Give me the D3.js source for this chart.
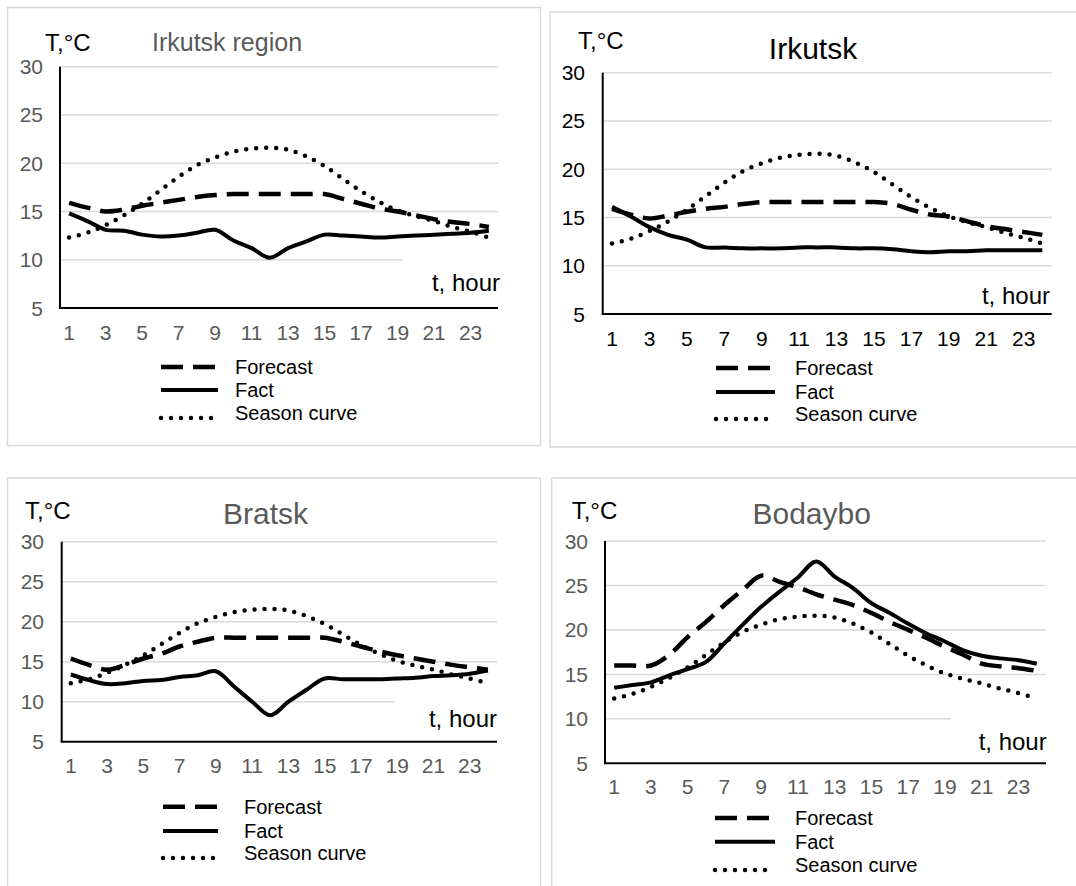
<!DOCTYPE html>
<html>
<head>
<meta charset="utf-8">
<script src="https://cdn.jsdelivr.net/npm/d3@7"></script>
<style>
    body { margin: 0; background: #fff; }
    svg { display: block; font-family: "Liberation Sans", Arial, sans-serif; }
    .frame { fill: none; stroke: #d9d9d9; stroke-width: 1.5; }
    .grid { stroke: #d9d9d9; stroke-width: 1.5; }
    .axisLine { stroke: #000; stroke-width: 2; }
    .forecast { fill: none; stroke: #000; stroke-width: 4.5; stroke-dasharray: 22 10; }
    .fact { fill: none; stroke: #000; stroke-width: 4; stroke-linejoin: round; }
    .season { fill: none; stroke: #000; stroke-width: 4.5; stroke-dasharray: 0 10; stroke-linecap: round; }
</style>
</head>
<body>
<script>
(function(){

//hours on the x axis
var hours = d3.range(1, 25);
var hourTicks = [1, 3, 5, 7, 9, 11, 13, 15, 17, 19, 21, 23];
var tempTicks = [5, 10, 15, 20, 25, 30];

//season curve is the same on every panel
var seasonCurve = [12.3, 12.8, 13.6, 14.6, 15.8, 17.2, 18.6, 19.8, 20.6, 21.2, 21.5, 21.6,
                   21.4, 20.7, 19.7, 18.4, 17.1, 16.0, 15.1, 14.5, 14.0, 13.4, 12.9, 12.3];

//Irkutsk region
var regionForecast = [15.9, 15.4, 15.0, 15.2, 15.6, 15.9, 16.2, 16.5, 16.7, 16.8, 16.8, 16.8,
                      16.8, 16.8, 16.8, 16.3, 15.8, 15.3, 15.0, 14.6, 14.2, 13.9, 13.7, 13.4];
var regionFact = [14.8, 14.0, 13.1, 13.0, 12.6, 12.4, 12.5, 12.8, 13.1, 12.0, 11.2, 10.2,
                  11.2, 11.9, 12.6, 12.5, 12.4, 12.3, 12.4, 12.5, 12.6, 12.7, 12.8, 13.0];

//Irkutsk
var irkutskForecast = [15.9, 15.3, 14.9, 15.2, 15.6, 15.9, 16.1, 16.4, 16.6, 16.6, 16.6, 16.6,
                       16.6, 16.6, 16.6, 16.4, 15.8, 15.3, 15.1, 14.6, 14.1, 13.8, 13.5, 13.2];
var irkutskFact = [16.1, 15.1, 14.0, 13.2, 12.7, 11.9, 11.9, 11.8, 11.8, 11.8, 11.9, 11.9,
                   11.9, 11.8, 11.8, 11.7, 11.5, 11.4, 11.5, 11.5, 11.6, 11.6, 11.6, 11.6];

//Bratsk
var bratskForecast = [15.4, 14.6, 14.0, 14.6, 15.4, 16.0, 16.9, 17.5, 18.0, 18.0, 18.0, 18.0,
                      18.0, 18.0, 18.0, 17.5, 16.9, 16.3, 15.8, 15.4, 15.0, 14.6, 14.3, 14.0];
var bratskFact = [13.4, 12.7, 12.2, 12.3, 12.6, 12.7, 13.1, 13.3, 13.8, 11.9, 10.0, 8.3,
                  10.0, 11.5, 12.9, 12.8, 12.8, 12.8, 12.9, 13.0, 13.2, 13.3, 13.5, 13.9];

//Bodaybo
var bodayboForecast = [16.0, 16.0, 16.0, 17.2, 19.2, 20.9, 22.8, 24.5, 26.1, 25.4, 24.8, 24.0,
                       23.4, 22.8, 21.9, 20.9, 20.0, 19.1, 18.1, 17.2, 16.2, 15.9, 15.7, 15.4];
var bodayboFact = [13.5, 13.8, 14.1, 14.9, 15.6, 16.4, 18.5, 20.6, 22.6, 24.3, 25.9, 27.7,
                   26.0, 24.7, 23.0, 21.9, 20.7, 19.6, 18.7, 17.7, 17.1, 16.8, 16.6, 16.2];

var legendNames = ["Forecast", "Fact", "Season curve"];
var legendClasses = ["forecast", "fact", "season"];

//panel layout
var panels = [
    {title: "Irkutsk region", forecast: regionForecast, fact: regionFact,
     frame: [7.5, 7.5, 533, 438], plot: [60, 498, 66.7, 308],
     titleX: 227, titleY: 42, titleSize: 25, titleColor: "#595959", tickColor: "#595959",
     unitX: 45, unitY: 42, hourX: 500, hourY: 282, xTickY: 332, yTickX: 43, grid10End: 403,
     legX: [161, 218, 235], legY: [367, 390, 413]},
    {title: "Irkutsk", forecast: irkutskForecast, fact: irkutskFact,
     frame: [550, 12, 540, 435], plot: [602.7, 1051.7, 72.7, 314],
     titleX: 813, titleY: 48, titleSize: 30, titleColor: "#000", tickColor: "#000",
     unitX: 578, unitY: 40, hourX: 1050, hourY: 295, xTickY: 338, yTickX: 585, grid10End: 1051.7,
     legX: [716, 775, 795], legY: [368, 392, 414]},
    {title: "Bratsk", forecast: bratskForecast, fact: bratskFact,
     frame: [7.5, 478, 533, 430], plot: [61.7, 497, 541.7, 741.7],
     titleX: 265.5, titleY: 513, titleSize: 30, titleColor: "#595959", tickColor: "#595959",
     unitX: 25, unitY: 510, hourX: 497, hourY: 718, xTickY: 765.7, yTickX: 44, grid10End: 395,
     legX: [163, 218, 244], legY: [806.7, 831, 853]},
    {title: "Bodaybo", forecast: bodayboForecast, fact: bodayboFact,
     frame: [551.7, 478, 540, 430], plot: [605, 1046, 541, 763.3],
     titleX: 811.7, titleY: 513, titleSize: 30, titleColor: "#595959", tickColor: "#595959",
     unitX: 571.7, unitY: 510, hourX: 1046.7, hourY: 741.7, xTickY: 786.7, yTickX: 588, grid10End: 950.7,
     legX: [715, 775, 795], legY: [818, 841.7, 865]}
];

var width = 1076,
    height = 886;

var svg = d3.select("body")
    .append("svg")
    .attr("width", width)
    .attr("height", height);

panels.forEach(function(p){ drawPanel(svg, p); });

function drawPanel(svg, p){
    var g = svg.append("g");

    //outer frame of the chart
    g.append("rect")
        .attr("class", "frame")
        .attr("x", p.frame[0])
        .attr("y", p.frame[1])
        .attr("width", p.frame[2])
        .attr("height", p.frame[3]);

    //scales
    var x = d3.scalePoint()
        .domain(hours)
        .range([p.plot[0], p.plot[1]])
        .padding(0.5);

    var y = d3.scaleLinear()
        .domain([5, 30])
        .range([p.plot[3], p.plot[2]]);

    //horizontal gridlines
    g.selectAll(".grid")
        .data(tempTicks.filter(function(d){ return d > 5; }))
        .enter()
        .append("line")
        .attr("class", "grid")
        .attr("x1", p.plot[0])
        .attr("x2", function(d){ return d == 10 ? p.grid10End : p.plot[1]; })
        .attr("y1", function(d){ return y(d); })
        .attr("y2", function(d){ return y(d); });

    //axis lines
    g.append("line")
        .attr("class", "axisLine")
        .attr("x1", p.plot[0]).attr("x2", p.plot[0])
        .attr("y1", p.plot[2]).attr("y2", p.plot[3]);
    g.append("line")
        .attr("class", "axisLine")
        .attr("x1", p.plot[0] - 1).attr("x2", p.plot[1])
        .attr("y1", p.plot[3]).attr("y2", p.plot[3]);

    //tick labels
    g.selectAll(".yTick")
        .data(tempTicks)
        .enter()
        .append("text")
        .attr("x", p.yTickX)
        .attr("y", function(d){ return y(d); })
        .attr("text-anchor", "end")
        .attr("dominant-baseline", "central")
        .style("font-size", "21px")
        .style("fill", p.tickColor)
        .text(function(d){ return d; });

    g.selectAll(".xTick")
        .data(hourTicks)
        .enter()
        .append("text")
        .attr("x", function(d){ return x(d); })
        .attr("y", p.xTickY)
        .attr("text-anchor", "middle")
        .attr("dominant-baseline", "central")
        .style("font-size", "21px")
        .style("fill", p.tickColor)
        .text(function(d){ return d; });

    //title and axis names
    g.append("text")
        .attr("x", p.titleX)
        .attr("y", p.titleY)
        .attr("text-anchor", "middle")
        .attr("dominant-baseline", "central")
        .style("font-size", p.titleSize + "px")
        .style("fill", p.titleColor)
        .text(p.title);

    g.append("text")
        .attr("x", p.unitX)
        .attr("y", p.unitY)
        .attr("dominant-baseline", "central")
        .style("font-size", "24px")
        .text("T,\u00B0C");

    g.append("text")
        .attr("x", p.hourX)
        .attr("y", p.hourY)
        .attr("text-anchor", "end")
        .attr("dominant-baseline", "central")
        .style("font-size", "24px")
        .text("t, hour");

    //smoothed lines like the spreadsheet
    var line = d3.line()
        .x(function(d, i){ return x(hours[i]); })
        .y(function(d){ return y(d); })
        .curve(d3.curveCatmullRom.alpha(0.5));

    g.append("path").datum(seasonCurve).attr("class", "season").attr("d", line);
    g.append("path").datum(p.forecast).attr("class", "forecast").attr("d", line);
    g.append("path").datum(p.fact).attr("class", "fact").attr("d", line);

    //legend
    legendNames.forEach(function(name, i){
        g.append("line")
            .attr("class", legendClasses[i])
            .attr("x1", p.legX[0]).attr("x2", p.legX[1])
            .attr("y1", p.legY[i] + (i == 2 ? 5 : 0))
            .attr("y2", p.legY[i] + (i == 2 ? 5 : 0));
        g.append("text")
            .attr("x", p.legX[2])
            .attr("y", p.legY[i])
            .attr("dominant-baseline", "central")
            .style("font-size", "20px")
            .text(name);
    });
};

})();
</script>
</body>
</html>
